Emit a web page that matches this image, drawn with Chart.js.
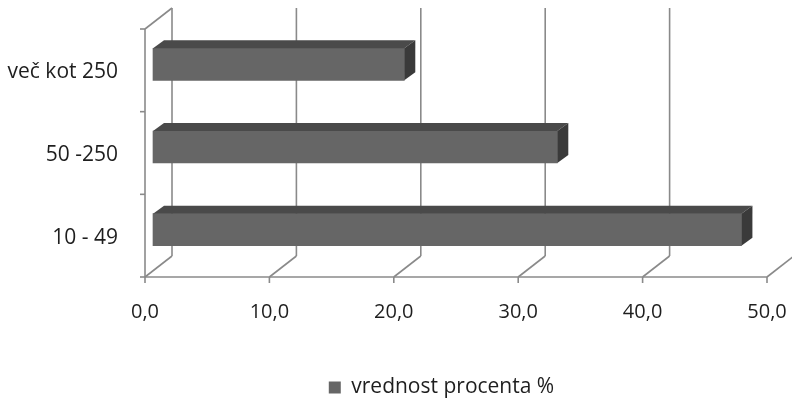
<!DOCTYPE html>
<html>
<head>
<meta charset="utf-8">
<script src="https://cdn.jsdelivr.net/npm/chart.js@4.4.1/dist/chart.umd.min.js"></script>
<style>
  html, body { margin: 0; padding: 0; background: #ffffff; }
  #wrap { width: 792px; height: 398px; position: relative; }
</style>
</head>
<body>
<div id="wrap"><canvas id="c"></canvas></div>
<script>
// Company size classes and their share (%)
const categories = ['več kot 250', '50 -250', '10 - 49'];
const shares = [20.2, 32.5, 47.3];
const seriesName = 'vrednost procenta %';
const xTicks = [0, 10, 20, 30, 40, 50];

const FONT = "'Open Sans', sans-serif";
const TEXT = '#1e1e1e';
const LINE = '#8a8a8a';
const FRONT = '#666666';
const TOP = '#4a4a4a';
const SIDE = '#3a3a3a';

// depth of the plot box and of each bar (pixels, oblique projection)
const WALL = { dx: 27, dy: -21 };
const BAR_OFF = { dx: 8, dy: -6 };
const BAR_DEPTH = { dx: 11, dy: -8 };

const fmt = v => v.toFixed(1).replace('.', ',');

const box3d = {
  id: 'box3d',
  afterLayout(chart) {
    // place legend below the plot, centred under the floor
    const lg = chart.legend;
    lg.top += 10; lg.bottom += 10;
    lg.left += 58; lg.right += 58;
  },
  beforeDatasetsDraw(chart) {
    const { ctx, chartArea: a, scales: { x } } = chart;
    ctx.save();
    ctx.strokeStyle = LINE;
    ctx.lineWidth = 1.6;
    ctx.lineCap = 'butt';
    const line = (x1, y1, x2, y2) => { ctx.beginPath(); ctx.moveTo(x1, y1); ctx.lineTo(x2, y2); ctx.stroke(); };

    // back wall grid lines + floor diagonals + tick marks
    xTicks.forEach(v => {
      const px = x.getPixelForValue(v);
      line(px, a.bottom, px + WALL.dx, a.bottom + WALL.dy);
      line(px + WALL.dx, a.bottom + WALL.dy, px + WALL.dx, a.top + WALL.dy);
      line(px, a.bottom, px, a.bottom + 6);
    });
    // floor front edge
    line(a.left, a.bottom, a.right, a.bottom);
    // left wall front edge and top edge
    line(a.left, a.top, a.left, a.bottom);
    line(a.left, a.top, a.left + WALL.dx, a.top + WALL.dy);
    // category separators on the vertical axis
    const n = categories.length;
    for (let i = 0; i <= n; i++) {
      const py = a.top + (a.bottom - a.top) * i / n;
      line(a.left - 5, py, a.left, py);
    }
    ctx.restore();

    // bars sit mid-depth
    ctx.save();
    ctx.translate(BAR_OFF.dx, BAR_OFF.dy);
  },
  afterDatasetsDraw(chart) {
    const { ctx } = chart;
    ctx.restore();
    const meta = chart.getDatasetMeta(0);
    ctx.save();
    meta.data.forEach(bar => {
      const p = bar.getProps(['x', 'y', 'base', 'height'], true);
      const l = Math.min(p.base, p.x) + BAR_OFF.dx;
      const r = Math.max(p.base, p.x) + BAR_OFF.dx;
      const t = p.y - p.height / 2 + BAR_OFF.dy;
      const b = p.y + p.height / 2 + BAR_OFF.dy;
      // top face
      ctx.fillStyle = TOP;
      ctx.beginPath();
      ctx.moveTo(l, t);
      ctx.lineTo(l + BAR_DEPTH.dx, t + BAR_DEPTH.dy);
      ctx.lineTo(r + BAR_DEPTH.dx, t + BAR_DEPTH.dy);
      ctx.lineTo(r, t);
      ctx.closePath();
      ctx.fill();
      // end face
      ctx.fillStyle = SIDE;
      ctx.beginPath();
      ctx.moveTo(r, t);
      ctx.lineTo(r + BAR_DEPTH.dx, t + BAR_DEPTH.dy);
      ctx.lineTo(r + BAR_DEPTH.dx, b + BAR_DEPTH.dy);
      ctx.lineTo(r, b);
      ctx.closePath();
      ctx.fill();
    });
    ctx.restore();
  }
};

new Chart(document.getElementById('c'), {
  type: 'bar',
  data: {
    labels: categories,
    datasets: [{
      label: seriesName,
      data: shares,
      backgroundColor: FRONT,
      borderWidth: 0,
      barThickness: 32,
      clip: false
    }]
  },
  options: {
    indexAxis: 'y',
    responsive: true,
    maintainAspectRatio: false,
    animation: false,
    layout: { padding: { top: 29, right: 25, left: 0, bottom: 0 } },
    scales: {
      x: {
        min: 0,
        max: 50,
        afterFit(s) { s.height = 80; s.paddingLeft = 0; s.paddingRight = 0; },
        afterBuildTicks(s) { s.ticks = xTicks.map(v => ({ value: v })); },
        grid: { display: false },
        border: { display: false },
        ticks: {
          padding: 15,
          color: TEXT,
          font: { family: FONT, size: 20 },
          callback: v => fmt(v),
          maxRotation: 0
        }
      },
      y: {
        afterFit(s) { s.width = 145; s.paddingTop = 0; s.paddingBottom = 0; },
        grid: { display: false },
        border: { display: false },
        ticks: {
          padding: 19,
          labelOffset: 2,
          color: TEXT,
          font: { family: FONT, size: 21 }
        }
      }
    },
    plugins: {
      legend: {
        position: 'bottom',
        labels: {
          boxWidth: 12,
          boxHeight: 12,
          padding: 10,
          color: TEXT,
          font: { family: FONT, size: 21 }
        }
      },
      tooltip: { enabled: false }
    }
  },
  plugins: [box3d]
});
</script>
</body>
</html>
